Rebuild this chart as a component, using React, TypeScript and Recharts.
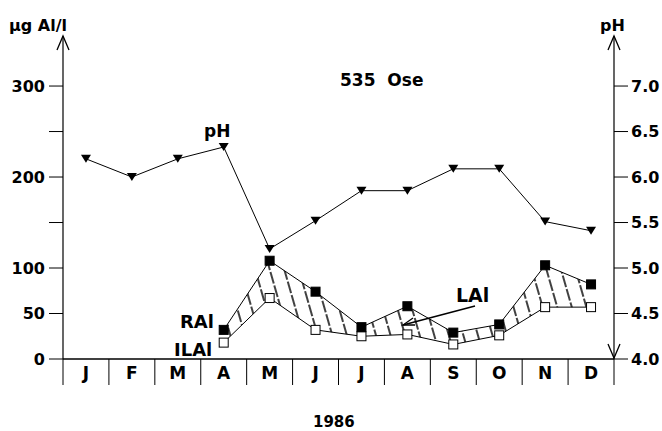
import React from "react";
import {
  ComposedChart,
  Area,
  Line,
  XAxis,
  YAxis,
} from "recharts";

// monthly values (535 Ose, 1986)
const months = ["J", "F", "M", "A", "M", "J", "J", "A", "S", "O", "N", "D"];
const phValues = [6.2, 6.0, 6.2, 6.33, 5.21, 5.52, 5.85, 5.85, 6.09, 6.09, 5.51, 5.41];
const ralValues = [null, null, null, 32, 108, 74, 35, 58, 29, 38, 103, 82];
const ilalValues = [null, null, null, 18, 67, 32, 25, 27, 16, 26, 57, 57];
const alTicks = [0, 50, 100, 150, 200, 250, 300];
const phTicks = [4.0, 4.5, 5.0, 5.5, 6.0, 6.5, 7.0];

const data = months.map((m, i) => ({
  id: i,
  month: m,
  ph: phValues[i],
  ral: ralValues[i],
  ilal: ilalValues[i],
  band: ralValues[i] == null ? null : [ilalValues[i], ralValues[i]],
}));

const W = 662;
const H = 431;
const LEFT = 63;
const RIGHT = 48;
const TOP = 36;
const BAND = (W - LEFT - RIGHT) / months.length;
const FONT = "'DejaVu Sans', sans-serif";

const TriangleDot = (props: any) => {
  const { cx, cy } = props;
  if (cx == null || cy == null) return null;
  return (
    <polygon
      points={`${cx - 5},${cy - 4} ${cx + 5},${cy - 4} ${cx},${cy + 4}`}
      fill="#000"
    />
  );
};

const SquareDot = (filled: boolean) => (props: any) => {
  const { cx, cy, value } = props;
  if (cx == null || cy == null || value == null) return null;
  return (
    <rect
      x={cx - 4.5}
      y={cy - 4.5}
      width={9}
      height={9}
      fill={filled ? "#000" : "#fff"}
      stroke="#000"
      strokeWidth={1}
    />
  );
};

const MonthTick = (props: any) => {
  const { x, y, payload } = props;
  return (
    <g>
      <line x1={x - BAND / 2} x2={x - BAND / 2} y1={y} y2={y + 26} stroke="#000" strokeWidth={1} />
      <text
        x={x}
        y={y + 20}
        textAnchor="middle"
        fontFamily={FONT}
        fontWeight="bold"
        fontSize={17}
        fill="#000"
      >
        {months[payload.value]}
      </text>
    </g>
  );
};

const txt = {
  fontFamily: FONT,
  fontWeight: "bold" as const,
  fill: "#000",
};

export default function App() {
  return (
    <div style={{ position: "absolute", left: 0, top: 0, width: W, height: H, background: "#fff" }}>
      <ComposedChart
        width={W}
        height={H}
        data={data}
        margin={{ top: TOP, right: 0, bottom: 42, left: 0 }}
      >
        <defs>
          <pattern
            id="hatch"
            patternUnits="userSpaceOnUse"
            width={14}
            height={14}
            patternTransform="rotate(-16)"
          >
            <line x1={3} y1={0} x2={3} y2={14} stroke="#111" strokeWidth={1.6} strokeDasharray="12 2" />
          </pattern>
        </defs>
        <XAxis
          dataKey="id"
          type="category"
          scale="band"
          height={30}
          axisLine={{ stroke: "#000", strokeWidth: 1.5 }}
          tickLine={false}
          tickSize={0}
          tickMargin={0}
          interval={0}
          tick={<MonthTick />}
        />
        <YAxis
          yAxisId="al"
          width={LEFT}
          domain={[0, 355]}
          ticks={alTicks}
          tickFormatter={(v: number) => (v === 150 || v === 250 ? "" : String(v))}
          axisLine={{ stroke: "#000", strokeWidth: 1.2 }}
          tickLine={{ stroke: "#000" }}
          tickSize={14}
          tickMargin={4}
          tick={{ ...txt, fontSize: 16 }}
          allowDataOverflow
        />
        <YAxis
          yAxisId="ph"
          orientation="right"
          width={RIGHT}
          domain={[4, 7.55]}
          ticks={phTicks}
          tickFormatter={(v: number) => v.toFixed(1)}
          axisLine={{ stroke: "#000", strokeWidth: 1.2 }}
          tickLine={{ stroke: "#000" }}
          tickSize={14}
          tickMargin={3}
          tick={{ ...txt, fontSize: 16 }}
          allowDataOverflow
        />
        <Area
          yAxisId="al"
          dataKey="band"
          type="linear"
          stroke="none"
          fill="url(#hatch)"
          fillOpacity={1}
          isAnimationActive={false}
          connectNulls={false}
        />
        <Line
          yAxisId="al"
          dataKey="ilal"
          type="linear"
          stroke="#000"
          strokeWidth={1}
          dot={SquareDot(false)}
          activeDot={false}
          isAnimationActive={false}
        />
        <Line
          yAxisId="al"
          dataKey="ral"
          type="linear"
          stroke="#000"
          strokeWidth={1}
          dot={SquareDot(true)}
          activeDot={false}
          isAnimationActive={false}
        />
        <Line
          yAxisId="ph"
          dataKey="ph"
          type="linear"
          stroke="#000"
          strokeWidth={1}
          dot={<TriangleDot />}
          activeDot={false}
          isAnimationActive={false}
        />
      </ComposedChart>
      <svg
        width={W}
        height={H}
        style={{ position: "absolute", left: 0, top: 0, pointerEvents: "none" }}
      >
        {/* axis arrows and extensions */}
        <polyline points="57,50 63,36 69,50" fill="none" stroke="#000" strokeWidth={1.3} />
        <polyline points="608,50 614,36 620,50" fill="none" stroke="#000" strokeWidth={1.3} />
        <polyline points="608,344 614,358 620,344" fill="none" stroke="#000" strokeWidth={1.3} />
        <line x1={614} x2={614} y1={359} y2={385} stroke="#000" strokeWidth={1} />
        {/* titles */}
        <text x={9} y={31} fontSize={16} {...txt}>µg Al/l</text>
        <text x={600} y={31} fontSize={16} {...txt}>pH</text>
        <text x={340} y={86} fontSize={17} {...txt} xmlSpace="preserve">535  Ose</text>
        <text x={313} y={427} fontSize={15} {...txt}>1986</text>
        {/* series labels */}
        <text x={204} y={137} fontSize={17} {...txt}>pH</text>
        <text x={180} y={328} fontSize={18} {...txt}>RAl</text>
        <text x={174} y={356} fontSize={18} {...txt}>ILAl</text>
        <text x={456} y={302} fontSize={19} {...txt}>LAl</text>
        <line x1={475} y1={306} x2={403} y2={325} stroke="#000" strokeWidth={1.5} />
        <polyline points="413,318 403,325 415,325" fill="none" stroke="#000" strokeWidth={1.3} />
      </svg>
    </div>
  );
}
